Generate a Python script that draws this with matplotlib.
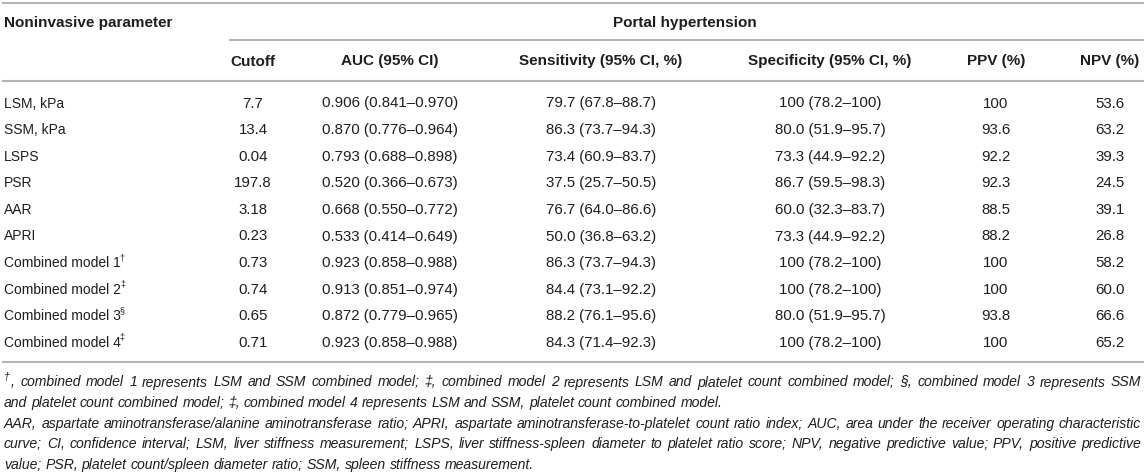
import matplotlib
matplotlib.use("Agg")
import matplotlib.pyplot as plt

plt.rcParams['font.family'] = ['Liberation Sans', 'DejaVu Sans']

# table content
params = ["LSM, kPa", "SSM, kPa", "LSPS", "PSR", "AAR", "APRI",
          "Combined model 1", "Combined model 2", "Combined model 3", "Combined model 4"]
marks = ["", "", "", "", "", "", "\u2020", "\u2021", "\u00a7", "\u2021"]
cutoff = ["7.7", "13.4", "0.04", "197.8", "3.18", "0.23", "0.73", "0.74", "0.65", "0.71"]
auc = ["0.906 (0.841\u20130.970)", "0.870 (0.776\u20130.964)", "0.793 (0.688\u20130.898)",
       "0.520 (0.366\u20130.673)", "0.668 (0.550\u20130.772)", "0.533 (0.414\u20130.649)",
       "0.923 (0.858\u20130.988)", "0.913 (0.851\u20130.974)", "0.872 (0.779\u20130.965)",
       "0.923 (0.858\u20130.988)"]
sens = ["79.7 (67.8\u201388.7)", "86.3 (73.7\u201394.3)", "73.4 (60.9\u201383.7)",
        "37.5 (25.7\u201350.5)", "76.7 (64.0\u201386.6)", "50.0 (36.8\u201363.2)",
        "86.3 (73.7\u201394.3)", "84.4 (73.1\u201392.2)", "88.2 (76.1\u201395.6)",
        "84.3 (71.4\u201392.3)"]
spec = ["100 (78.2\u2013100)", "80.0 (51.9\u201395.7)", "73.3 (44.9\u201392.2)",
        "86.7 (59.5\u201398.3)", "60.0 (32.3\u201383.7)", "73.3 (44.9\u201392.2)",
        "100 (78.2\u2013100)", "100 (78.2\u2013100)", "80.0 (51.9\u201395.7)",
        "100 (78.2\u2013100)"]
ppv = ["100", "93.6", "92.2", "92.3", "88.5", "88.2", "100", "100", "93.8", "100"]
npv = ["53.6", "63.2", "39.3", "24.5", "39.1", "26.8", "58.2", "60.0", "66.6", "65.2"]

col_heads = ["Cutoff", "AUC (95% CI)", "Sensitivity (95% CI, %)",
             "Specificity (95% CI, %)", "PPV (%)", "NPV (%)"]

foot_lines = [
    ", combined model 1 represents LSM and SSM combined model; \u2021, combined model 2 represents LSM and platelet count combined model; \u00a7, combined model 3 represents SSM",
    "and platelet count combined model; \u2021, combined model 4 represents LSM and SSM, platelet count combined model.",
    "AAR, aspartate aminotransferase/alanine aminotransferase ratio; APRI, aspartate aminotransferase-to-platelet count ratio index; AUC, area under the receiver operating characteristic",
    "curve; CI, confidence interval; LSM, liver stiffness measurement; LSPS, liver stiffness-spleen diameter to platelet ratio score; NPV, negative predictive value; PPV, positive predictive",
    "value; PSR, platelet count/spleen diameter ratio; SSM, spleen stiffness measurement.",
]
foot_justify = [True, False, True, True, False]

W, H = 1144, 475
fig = plt.figure(figsize=(W / 100, H / 100), dpi=100)
ax = fig.add_axes([0, 0, 1, 1])
ax.set_xlim(0, W)
ax.set_ylim(H, 0)
ax.axis("off")

txt = "#1e1e1e"
rule = "#b4b4b4"
fs_lab = 10
fs_num = 10.8
fs_head = 11
col_x = [253, 390, 601, 830, 996, 1110]
row_y0, row_dy = 102, 26.6
left = 4
r = fig.canvas.get_renderer()

# rules
ax.plot([3, W], [3, 3], color=rule, lw=1.5)
ax.plot([230, W], [40, 40], color=rule, lw=1.5)
ax.plot([3, W], [81, 81], color=rule, lw=1.5)
ax.plot([3, W], [362, 362], color=rule, lw=1.5)

# header
ax.text(left, 22, "Noninvasive parameter", fontsize=fs_head, fontweight="bold",
        color=txt, va="center_baseline")
ax.text(685, 22, "Portal hypertension", fontsize=fs_head, fontweight="bold",
        color=txt, va="center_baseline", ha="center")
for x, h in zip(col_x, col_heads):
    ax.text(x, 60, h, fontsize=fs_head, fontweight="bold", color=txt,
            va="center_baseline", ha="center")

# body
for i in range(len(params)):
    y = row_y0 + i * row_dy
    t = ax.text(left, y, params[i], fontsize=fs_lab, color=txt, va="center_baseline")
    if marks[i]:
        bb = t.get_window_extent(renderer=r)
        ax.text(bb.x1 - 1, y - 5, marks[i], fontsize=fs_lab * 0.65, color=txt,
                va="center_baseline")
    for x, col in zip(col_x, [cutoff, auc, sens, spec, ppv, npv]):
        ax.text(x, y, col[i], fontsize=fs_num, color=txt, va="center_baseline", ha="center")

# footnotes, justified
ffs = 10.1
fy0, fdy = 381, 20.6
xr = 1141


def text_w(s):
    tt = ax.text(0, 0, s, fontsize=ffs, style="italic")
    w = tt.get_window_extent(renderer=r).width
    tt.remove()
    return w


space_w = text_w("a a") - text_w("aa")
for k, line in enumerate(foot_lines):
    y = fy0 + k * fdy
    x0 = left
    if k == 0:
        d = ax.text(x0, y - 5, "\u2020", fontsize=ffs * 0.75, style="italic",
                    color=txt, va="center_baseline")
        x0 = d.get_window_extent(renderer=r).x1 + 1
    words = line.split(" ")
    widths = [text_w(w) for w in words]
    if foot_justify[k]:
        gap = (xr - x0 - sum(widths)) / (len(words) - 1)
    else:
        gap = space_w
    x = x0
    for w, wd in zip(words, widths):
        ax.text(x, y, w, fontsize=ffs, style="italic", color=txt, va="center_baseline")
        x += wd + gap

fig.savefig("out.png", dpi=100)
